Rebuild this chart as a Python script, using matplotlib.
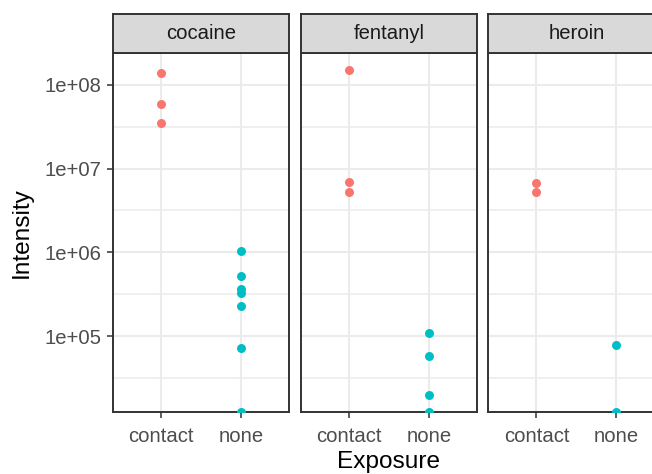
import matplotlib
matplotlib.use("Agg")
import matplotlib.pyplot as plt
import numpy as np

plt.rcParams['font.family'] = ['Liberation Sans', 'DejaVu Sans']

# intensities per drug and exposure group
drugs = ["cocaine", "fentanyl", "heroin"]
exposure = ["contact", "none"]
cocaine_contact = [1.38e8, 5.9e7, 3.55e7]
cocaine_none = [1.03e6, 5.2e5, 3.6e5, 3.25e5, 2.3e5, 7.2e4, 1.24e4]
fentanyl_contact = [1.5e8, 7.0e6, 5.2e6]
fentanyl_none = [1.1e5, 5.7e4, 1.95e4, 1.24e4]
heroin_contact = [6.7e6, 5.2e6]
heroin_none = [7.9e4, 1.24e4]

data = {
    "cocaine": (cocaine_contact, cocaine_none),
    "fentanyl": (fentanyl_contact, fentanyl_none),
    "heroin": (heroin_contact, heroin_none),
}
colors = ["#F8766D", "#00BFC4"]
y_breaks = [1e5, 1e6, 1e7, 1e8]
y_labels = ["1e+05", "1e+06", "1e+07", "1e+08"]

W, H = 652, 474
fig = plt.figure(figsize=(W / 100, H / 100), dpi=100)

panel_left = [113, 301, 488.5]
panel_w = 176
panel_top, panel_bottom = 53, 412
strip_top = 14

border = "#333333"
grid_col = "#EBEBEB"

for i, drug in enumerate(drugs):
    x0 = panel_left[i] / W
    ax = fig.add_axes([x0, 1 - panel_bottom / H, panel_w / W,
                       (panel_bottom - panel_top) / H])
    ax.set_yscale("log")
    ax.set_ylim(10 ** 4.092, 10 ** 8.382)
    ax.set_xlim(-0.6, 1.6)
    for j, vals in enumerate(data[drug]):
        ax.scatter(np.full(len(vals), j), vals, s=42, color=colors[j],
                   linewidths=0, zorder=3, clip_on=True)

    ax.set_yticks(y_breaks)
    ax.set_yticks([10 ** 4.5, 10 ** 5.5, 10 ** 6.5, 10 ** 7.5], minor=True)
    ax.set_xticks(range(len(exposure)))
    ax.set_xticklabels(exposure)
    ax.grid(which="major", color=grid_col, linewidth=1.5, zorder=0)
    ax.grid(which="minor", axis="y", color=grid_col, linewidth=1.1, zorder=0)
    ax.set_axisbelow(True)
    ax.tick_params(which="minor", length=0, labelleft=False)
    ax.tick_params(axis="x", length=4.6, width=1.1, color=border,
                   labelsize=14.6, labelcolor="#4D4D4D", pad=6)
    if i == 0:
        ax.set_yticklabels(y_labels)
        ax.tick_params(axis="y", length=4.6, width=1.1, color=border,
                       labelsize=14.6, labelcolor="#4D4D4D", pad=4)
        ax.set_ylabel("Intensity", fontsize=17.6, labelpad=8)
    else:
        ax.tick_params(axis="y", length=0, labelleft=False)
    for sp in ax.spines.values():
        sp.set_color(border)
        sp.set_linewidth(1.4)

    # facet strip
    sx = fig.add_axes([x0, 1 - panel_top / H, panel_w / W,
                       (panel_top - strip_top) / H])
    sx.set_facecolor("#D9D9D9")
    sx.set_xticks([])
    sx.set_yticks([])
    for sp in sx.spines.values():
        sp.set_color(border)
        sp.set_linewidth(1.4)
    sx.text(0.5, 0.5, drug, ha="center", va="center", fontsize=14.6,
            color="#1A1A1A", transform=sx.transAxes)

# shared x title centred over all three panels
x_mid = (panel_left[0] + panel_left[-1] + panel_w) / 2 / W
fig.text(x_mid, 1 - 462 / H, "Exposure", ha="center", va="center",
         fontsize=17.6)

fig.savefig("out.png", dpi=100)
